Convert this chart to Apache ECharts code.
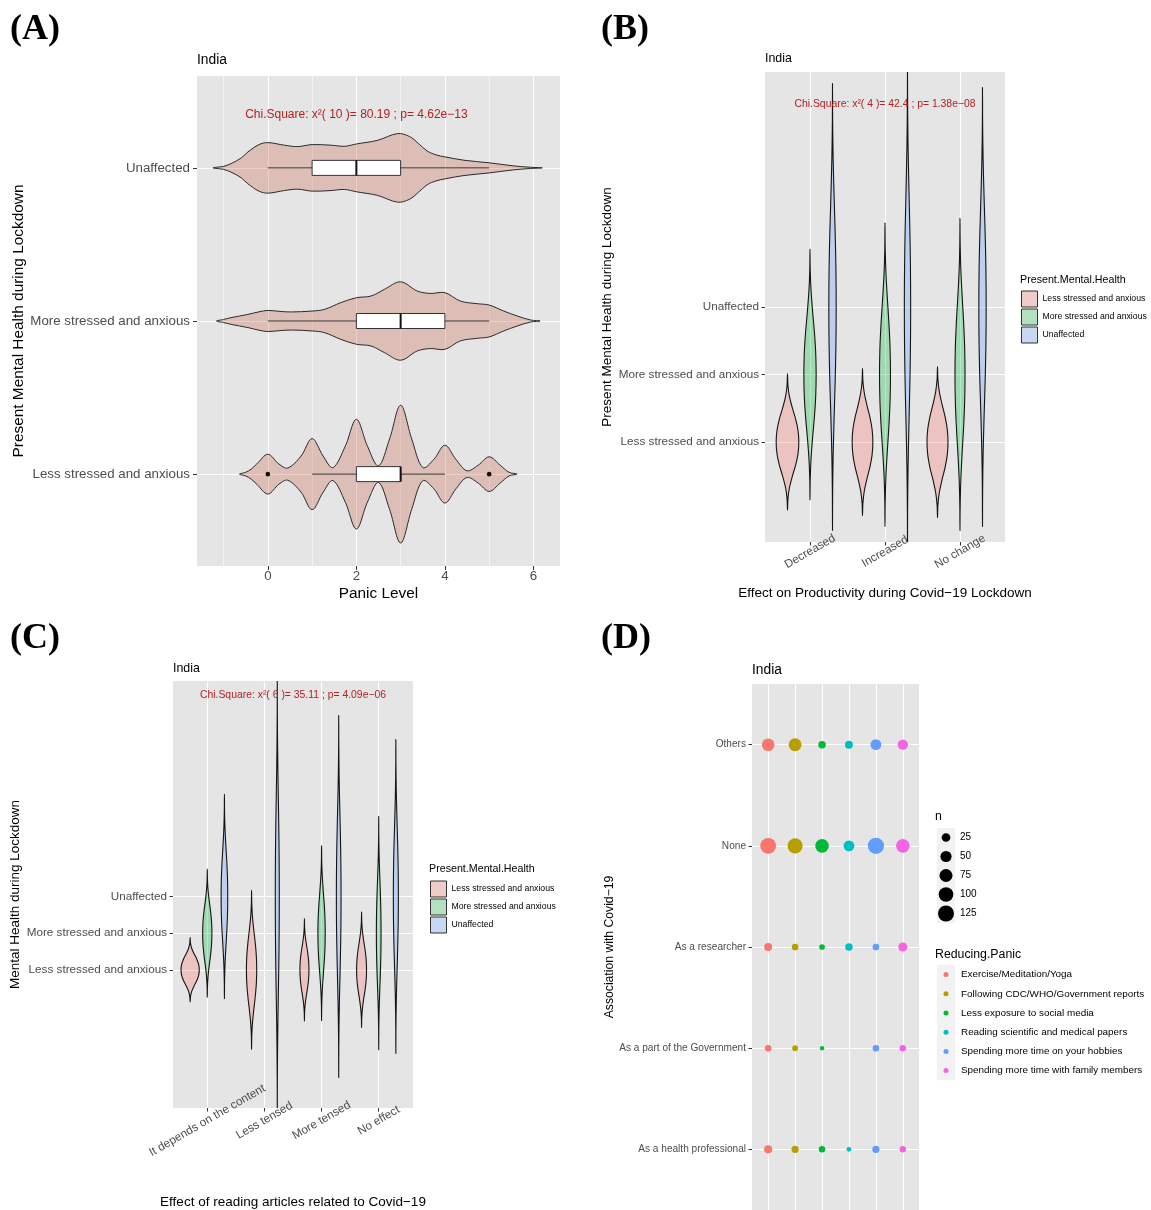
<!DOCTYPE html>
<html><head><meta charset="utf-8">
<script src="https://cdn.jsdelivr.net/npm/echarts@6/dist/echarts.min.js"></script>
<style>html,body{margin:0;padding:0;background:#fff}#chart{width:1151px;height:1210px}</style>
</head><body><div id="chart"></div>
<script>
// ================= DATA =================
// shared categories
const mentalHealthLevels = ['Less stressed and anxious', 'More stressed and anxious', 'Unaffected'];

// ---- Panel A : Panic level by present mental health (violin + box) ----
const panicTicks = [0, 2, 4, 6];
const panicMinorTicks = [-1, 1, 3, 5];
const chiA = 'Chi.Square: x²( 10 )= 80.19 ; p= 4.62e−13';
// violin half-width profiles: [panic level, half width (category units)]
const violinA_Less = [[-0.64,0],[-0.5,0.012],[-0.375,0.033],[-0.25,0.066],[0,0.13],[0.25,0.066],[0.45,0.04],[0.75,0.118],[1,0.232],[1.25,0.118],[1.47,0.042],[1.75,0.183],[2,0.358],[2.25,0.183],[2.5,0.054],[2.75,0.23],[3,0.45],[3.25,0.23],[3.5,0.043],[3.75,0.096],[4,0.189],[4.25,0.096],[4.5,0.022],[4.75,0.058],[5,0.113],[5.25,0.058],[5.45,0.012],[5.63,0]];
const violinA_More = [[-1.16,0],[-1.0,0.01],[-0.83,0.022],[-0.45,0.043],[-0.2,0.06],[0,0.069],[0.3,0.062],[0.53,0.059],[1.0,0.065],[1.28,0.076],[1.65,0.12],[2.0,0.152],[2.33,0.163],[2.63,0.206],[3.0,0.256],[3.38,0.195],[3.68,0.18],[4.0,0.185],[4.35,0.13],[4.73,0.113],[5.0,0.104],[5.33,0.065],[5.63,0.033],[5.93,0.007],[6.15,0]];
const violinA_Unaffected = [[-1.24,0],[-1.0,0.01],[-0.83,0.028],[-0.6,0.065],[-0.45,0.104],[-0.2,0.152],[0,0.165],[0.375,0.148],[0.675,0.139],[1.0,0.152],[1.43,0.148],[1.73,0.141],[2.0,0.156],[2.48,0.18],[2.93,0.224],[3.2,0.205],[3.4,0.16],[3.6,0.11],[3.8,0.085],[4.0,0.072],[4.43,0.05],[5.0,0.033],[5.55,0.013],[5.93,0.004],[6.2,0]];
// box stats: [lower whisker, Q1, median, Q3, upper whisker]
const boxA_Less = [1, 2, 3, 3, 4];
const boxA_More = [0, 2, 3, 4, 5];
const boxA_Unaffected = [0, 1, 2, 3, 5];
const outliersA_Less = [0, 5];

// ---- Panel B : Effect on productivity ----
const productivityCats = ['Decreased', 'Increased', 'No change'];
const chiB = 'Chi.Square: x²( 4 )= 42.4 ; p= 1.38e−08';
// per productivity category: [centre, half extent, max half width]
const violinB_Less = [[1, 1.01, 0.151], [1, 1.09, 0.138], [1, 1.12, 0.140]];
const violinB_More = [[2, 1.86, 0.082], [2, 2.25, 0.073], [2, 2.31, 0.067]];
const violinB_Unaffected = [[3, 3.31, 0.049], [3, 3.60, 0.042], [3, 3.25, 0.049]];

// ---- Panel C : Effect of reading articles ----
const articleCats = ['It depends on the content', 'Less tensed', 'More tensed', 'No effect'];
const chiC = 'Chi.Square: x²( 6 )= 35.11 ; p= 4.09e−06';
const violinC_Less = [[1, 0.88, 0.16], [1, 2.17, 0.09], [1, 1.40, 0.079], [1, 1.58, 0.087]];
const violinC_More = [[2, 1.75, 0.081], null, [2, 2.39, 0.064], [2, 3.18, 0.041]];
const violinC_Unaffected = [[3, 2.79, 0.058], [3, 6.0, 0.035], [3, 4.94, 0.041], [3, 4.28, 0.044]];

// normalised violin outline: [relative position, relative width]
const violinShape = [[-1,0],[-0.83,0.04],[-0.67,0.17],[-0.5,0.43],[-0.33,0.73],[-0.17,0.93],[0,1],[0.17,0.93],[0.33,0.73],[0.5,0.43],[0.67,0.17],[0.83,0.04],[1,0]];

// ---- Panel D : Association with Covid-19 vs reducing panic ----
const associations = ['As a health professional', 'As a part of the Government', 'As a researcher', 'None', 'Others'];
const reducingPanic = ['Exercise/Meditation/Yoga', 'Following CDC/WHO/Government reports', 'Less exposure to social media', 'Reading scientific and medical papers', 'Spending more time on your hobbies', 'Spending more time with family members'];
// counts n per association (order as associations)
const nExercise = [21, 10, 19, 121, 69];
const nFollowing = [14, 6, 11, 108, 73];
const nLessExposure = [10, 2, 6, 84, 16];
const nReading = [3, null, 16, 46, 19];
const nHobbies = [14, 10, 11, 129, 46];
const nFamily = [10, 10, 28, 84, 41];
const sizeBreaks = [25, 50, 75, 100, 125];

// ================= STYLE =================
const FONT = '"Liberation Sans", Arial, Helvetica, sans-serif';
const GREY_TEXT = '#4D4D4D';
const PANEL_BG = '#E5E5E5';
const groupFill = ['rgba(248,118,109,0.3)', 'rgba(0,186,56,0.3)', 'rgba(97,156,255,0.3)'];
const groupKey = ['#EFCBC9', '#B3E0C0', '#C8D8F3'];
const panicColors = ['#F8766D', '#B79F00', '#00BA38', '#00BFC4', '#619CFF', '#F564E3'];
const nToDiameter = n => 2.8 + 1.18 * Math.sqrt(n);

// ================= BUILD =================
const violinsA = [violinA_Less, violinA_More, violinA_Unaffected];
const boxesA = [boxA_Less, boxA_More, boxA_Unaffected];
const outliersA = [outliersA_Less, [], []];

function dodgeRows(groups, gi) {
  const rows = [];
  const nCat = groups[0].length;
  for (let c = 0; c < nCat; c++) {
    const spec = groups[gi][c];
    if (!spec) continue;
    const present = groups.map((g, k) => g[c] ? k : -1).filter(k => k >= 0);
    const idx = present.indexOf(gi);
    const off = (idx + 0.5) / present.length * 0.9 - 0.45;
    rows.push([c + 1 + off, spec[0], spec[1], spec[2]]);
  }
  return rows;
}

function renderViolin(params, api) {
  const x = api.value(0), c = api.value(1), ext = api.value(2), hw = api.value(3);
  const right = violinShape.map(([r, w]) => api.coord([x + hw * w, c + r * ext]));
  const left = violinShape.slice(1, -1).reverse().map(([r, w]) => api.coord([x - hw * w, c + r * ext]));
  return {
    type: 'polygon',
    shape: { points: right.concat(left), smooth: 0.35 },
    style: { fill: api.visual('color'), stroke: '#141414', lineWidth: 1.1 }
  };
}

function renderViolinA(params, api) {
  const i = params.dataIndex, yc = i + 1;
  const prof = violinsA[i];
  const top = prof.map(([x, w]) => api.coord([x, yc + w]));
  const bottom = prof.slice(1, -1).reverse().map(([x, w]) => api.coord([x, yc - w]));
  const b = boxesA[i], bh = 0.049;
  const children = [{
    type: 'polygon',
    shape: { points: top.concat(bottom), smooth: 0.35 },
    style: { fill: 'rgba(199,99,76,0.3)', stroke: '#2A2A2A', lineWidth: 1 }
  }];
  const w0 = api.coord([b[0], yc]), w1 = api.coord([b[4], yc]);
  children.push({ type: 'line', shape: { x1: w0[0], y1: w0[1], x2: w1[0], y2: w1[1] }, style: { stroke: '#333', lineWidth: 1 } });
  const p1 = api.coord([b[1], yc + bh]), p2 = api.coord([b[3], yc - bh]);
  children.push({ type: 'rect', shape: { x: p1[0], y: p1[1], width: p2[0] - p1[0], height: p2[1] - p1[1] }, style: { fill: '#fff', stroke: '#333', lineWidth: 1 } });
  const m1 = api.coord([b[2], yc + bh]), m2 = api.coord([b[2], yc - bh]);
  children.push({ type: 'line', shape: { x1: m1[0], y1: m1[1], x2: m2[0], y2: m2[1] }, style: { stroke: '#111', lineWidth: 2 } });
  outliersA[i].forEach(o => {
    const p = api.coord([o, yc]);
    children.push({ type: 'circle', shape: { cx: p[0], cy: p[1], r: 2.3 }, style: { fill: '#111' } });
  });
  return { type: 'group', children };
}

function chiSeries(xi, yi, text, pos, size) {
  return {
    type: 'custom', xAxisIndex: xi, yAxisIndex: yi, silent: true, z: 5,
    data: [pos],
    renderItem: (params, api) => {
      const p = api.coord([api.value(0), api.value(1)]);
      return { type: 'text', style: { x: p[0], y: p[1], text, fill: '#B22222', font: size + 'px ' + FONT, align: 'center', verticalAlign: 'middle' } };
    }
  };
}

function vAxis(o) {
  return {
    type: 'value', gridIndex: o.grid, min: o.min, max: o.max, position: o.position,
    axisLine: { show: false, onZero: false },
    axisTick: { show: o.showTicks !== false, customValues: o.ticks, length: o.tickLen || 4, lineStyle: { color: '#333', width: 1 } },
    axisLabel: {
      show: o.showLabels !== false, customValues: o.ticks,
      formatter: v => o.names ? o.names[Math.round(v) - 1] : String(v),
      fontSize: o.fontSize, color: GREY_TEXT, fontFamily: FONT, margin: o.margin,
      rotate: o.rotate || 0, align: o.align, verticalAlign: o.vAlign
    },
    splitLine: { show: true, lineStyle: { color: '#fff', width: o.gridWidth || 1.1 } },
    name: o.name, nameLocation: 'middle', nameGap: o.nameGap,
    nameTextStyle: { fontSize: o.nameSize, color: '#000', fontFamily: FONT }
  };
}

function hiddenCat(grid, data, extra) {
  return Object.assign({
    type: 'category', gridIndex: grid, data, boundaryGap: true,
    axisLine: { show: false, onZero: false }, axisTick: { show: false }, axisLabel: { show: false }, splitLine: { show: false }
  }, extra || {});
}

function ttl(text, left, top, size, extra) {
  return Object.assign({ text, left, top, padding: 0, textStyle: { fontSize: size, fontWeight: 'normal', color: '#000', fontFamily: FONT } }, extra || {});
}
const serifLabel = { fontFamily: '"Liberation Serif", "DejaVu Serif", serif', fontWeight: 'bold', fontSize: 36, color: '#000' };

const groupsB = [violinB_Less, violinB_More, violinB_Unaffected];
const groupsC = [violinC_Less, violinC_More, violinC_Unaffected];
const nAll = [nExercise, nFollowing, nLessExposure, nReading, nHobbies, nFamily];

const series = [];
series.push({
  type: 'custom', name: 'Panic', xAxisIndex: 0, yAxisIndex: 0, silent: true,
  data: violinsA.map((p, i) => [2, i + 1]), renderItem: renderViolinA
});
series.push(chiSeries(0, 0, chiA, [2, 3.35], 12));
mentalHealthLevels.forEach((name, gi) => {
  series.push({ type: 'custom', name, xAxisIndex: 2, yAxisIndex: 1, clip: true, silent: true,
    itemStyle: { color: groupFill[gi] }, data: dodgeRows(groupsB, gi), renderItem: renderViolin });
});
series.push(chiSeries(2, 1, chiB, [2, 6], 10.4));
mentalHealthLevels.forEach((name, gi) => {
  series.push({ type: 'custom', name, xAxisIndex: 3, yAxisIndex: 2, clip: true, silent: true,
    itemStyle: { color: groupFill[gi] }, data: dodgeRows(groupsC, gi), renderItem: renderViolin });
});
series.push(chiSeries(3, 2, chiC, [2.5, 8.5], 10.4));
reducingPanic.forEach((name, i) => {
  series.push({
    type: 'scatter', name, xAxisIndex: 4, yAxisIndex: 3, silent: true,
    itemStyle: { color: panicColors[i], opacity: 1 },
    symbolSize: v => nToDiameter(v[2]),
    data: nAll[i].map((n, j) => n == null ? null : [i + 1, j + 1, n]).filter(d => d)
  });
});
series.push({
  type: 'scatter', name: 'n-legend', xAxisIndex: 5, yAxisIndex: 4, silent: true,
  itemStyle: { color: '#000', opacity: 1 }, symbolSize: v => nToDiameter(v[2]),
  data: sizeBreaks.map(n => ['n', String(n), n])
});
series.push({
  type: 'scatter', name: 'panic-legend', xAxisIndex: 6, yAxisIndex: 5, silent: true, symbolSize: 5,
  itemStyle: { opacity: 1 },
  data: reducingPanic.map((name, i) => ({ value: ['k', name], itemStyle: { color: panicColors[i], opacity: 1 } }))
});

const legendCommon = {
  orient: 'vertical', padding: 0, itemWidth: 16, itemHeight: 16, itemGap: 1, icon: 'rect', selectedMode: false,
  itemStyle: { borderColor: '#333', borderWidth: 1 },
  textStyle: { fontSize: 8.7, color: '#000', fontFamily: FONT },
  data: mentalHealthLevels.map((name, i) => ({ name, itemStyle: { color: groupKey[i] } }))
};

const option = {
  animation: false,
  backgroundColor: '#fff',
  textStyle: { fontFamily: FONT },
  title: [
    { text: '(A)', left: 10, top: 12, padding: 0, textStyle: serifLabel },
    { text: '(B)', left: 601, top: 12, padding: 0, textStyle: serifLabel },
    { text: '(C)', left: 10, top: 621, padding: 0, textStyle: serifLabel },
    { text: '(D)', left: 601, top: 621, padding: 0, textStyle: serifLabel },
    ttl('India', 197, 53, 13.8),
    ttl('India', 765, 52.5, 12.4),
    ttl('India', 173, 662.5, 12.4),
    ttl('India', 752, 663, 13.8),
    ttl('Present.Mental.Health', 1020, 274.5, 10.7),
    ttl('Present.Mental.Health', 429, 864, 10.7),
    ttl('n', 935, 810.5, 12.3),
    ttl('Reducing.Panic', 935, 948.5, 12.3)
  ],
  legend: [
    Object.assign({ left: 1021, top: 290.5 }, legendCommon),
    Object.assign({ left: 430, top: 880.5 }, legendCommon)
  ],
  grid: [
    { left: 197, top: 76, width: 363, height: 490, show: true, backgroundColor: PANEL_BG, borderWidth: 0 },
    { left: 765, top: 72, width: 240, height: 470, show: true, backgroundColor: PANEL_BG, borderWidth: 0 },
    { left: 173, top: 681, width: 240, height: 428, show: true, backgroundColor: PANEL_BG, borderWidth: 0 },
    { left: 752, top: 684, width: 167, height: 526, show: true, backgroundColor: PANEL_BG, borderWidth: 0 },
    { left: 937, top: 828, width: 18, height: 95, show: true, backgroundColor: '#F2F2F2', borderWidth: 0 },
    { left: 937, top: 965, width: 18, height: 115.2, show: true, backgroundColor: '#F2F2F2', borderWidth: 0 }
  ],
  xAxis: [
    vAxis({ grid: 0, min: -1.6, max: 6.6, ticks: panicTicks, fontSize: 13.3, margin: 4, name: 'Panic Level', nameGap: 20, nameSize: 15.4 }),
    vAxis({ grid: 0, min: -1.6, max: 6.6, ticks: panicMinorTicks, position: 'top', showTicks: false, showLabels: false, gridWidth: 0.55 }),
    vAxis({ grid: 1, min: 0.4, max: 3.6, ticks: [1, 2, 3], names: productivityCats, fontSize: 11.7, margin: 9.5, rotate: 30, align: 'center', vAlign: 'middle', tickLen: 3.5,
      name: 'Effect on Productivity during Covid−19 Lockdown', nameGap: 44, nameSize: 13.5 }),
    vAxis({ grid: 2, min: 0.4, max: 4.6, ticks: [1, 2, 3, 4], names: articleCats, fontSize: 11.7, margin: 12.5, rotate: 30, align: 'center', vAlign: 'middle', tickLen: 3.5,
      name: 'Effect of reading articles related to Covid−19', nameGap: 87, nameSize: 13.5 }),
    vAxis({ grid: 3, min: 0.4, max: 6.6, ticks: [1, 2, 3, 4, 5, 6], showTicks: false, showLabels: false }),
    hiddenCat(4, ['n']),
    hiddenCat(5, ['k'])
  ],
  yAxis: [
    vAxis({ grid: 0, min: 0.4, max: 3.6, ticks: [1, 2, 3], names: mentalHealthLevels, fontSize: 13.3, margin: 7,
      name: 'Present Mental Health during Lockdown', nameGap: 163, nameSize: 15.4 }),
    vAxis({ grid: 1, min: -0.48, max: 6.48, ticks: [1, 2, 3], names: mentalHealthLevels, fontSize: 11.7, margin: 6, tickLen: 3.5,
      name: 'Present Mental Health during Lockdown', nameGap: 143, nameSize: 13.5 }),
    vAxis({ grid: 2, min: -2.77, max: 8.88, ticks: [1, 2, 3], names: mentalHealthLevels, fontSize: 11.7, margin: 6, tickLen: 3.5,
      name: 'Mental Health during Lockdown', nameGap: 143, nameSize: 13.5 }),
    vAxis({ grid: 3, min: 0.4, max: 5.6, ticks: [1, 2, 3, 4, 5], names: associations, fontSize: 10.1, margin: 6, tickLen: 3.5,
      name: 'Association with Covid−19', nameGap: 136, nameSize: 12.2 }),
    hiddenCat(4, sizeBreaks.map(String), { inverse: true, position: 'right', axisLabel: { show: true, margin: 5, fontSize: 10, color: '#000', fontFamily: FONT } }),
    hiddenCat(5, reducingPanic, { inverse: true, position: 'right', axisLabel: { show: true, margin: 6, fontSize: 9.9, color: '#000', fontFamily: FONT } })
  ],
  series
};

const chart = echarts.init(document.getElementById('chart'), null, { renderer: 'canvas' });
chart.setOption(option);
</script>
</body></html>
